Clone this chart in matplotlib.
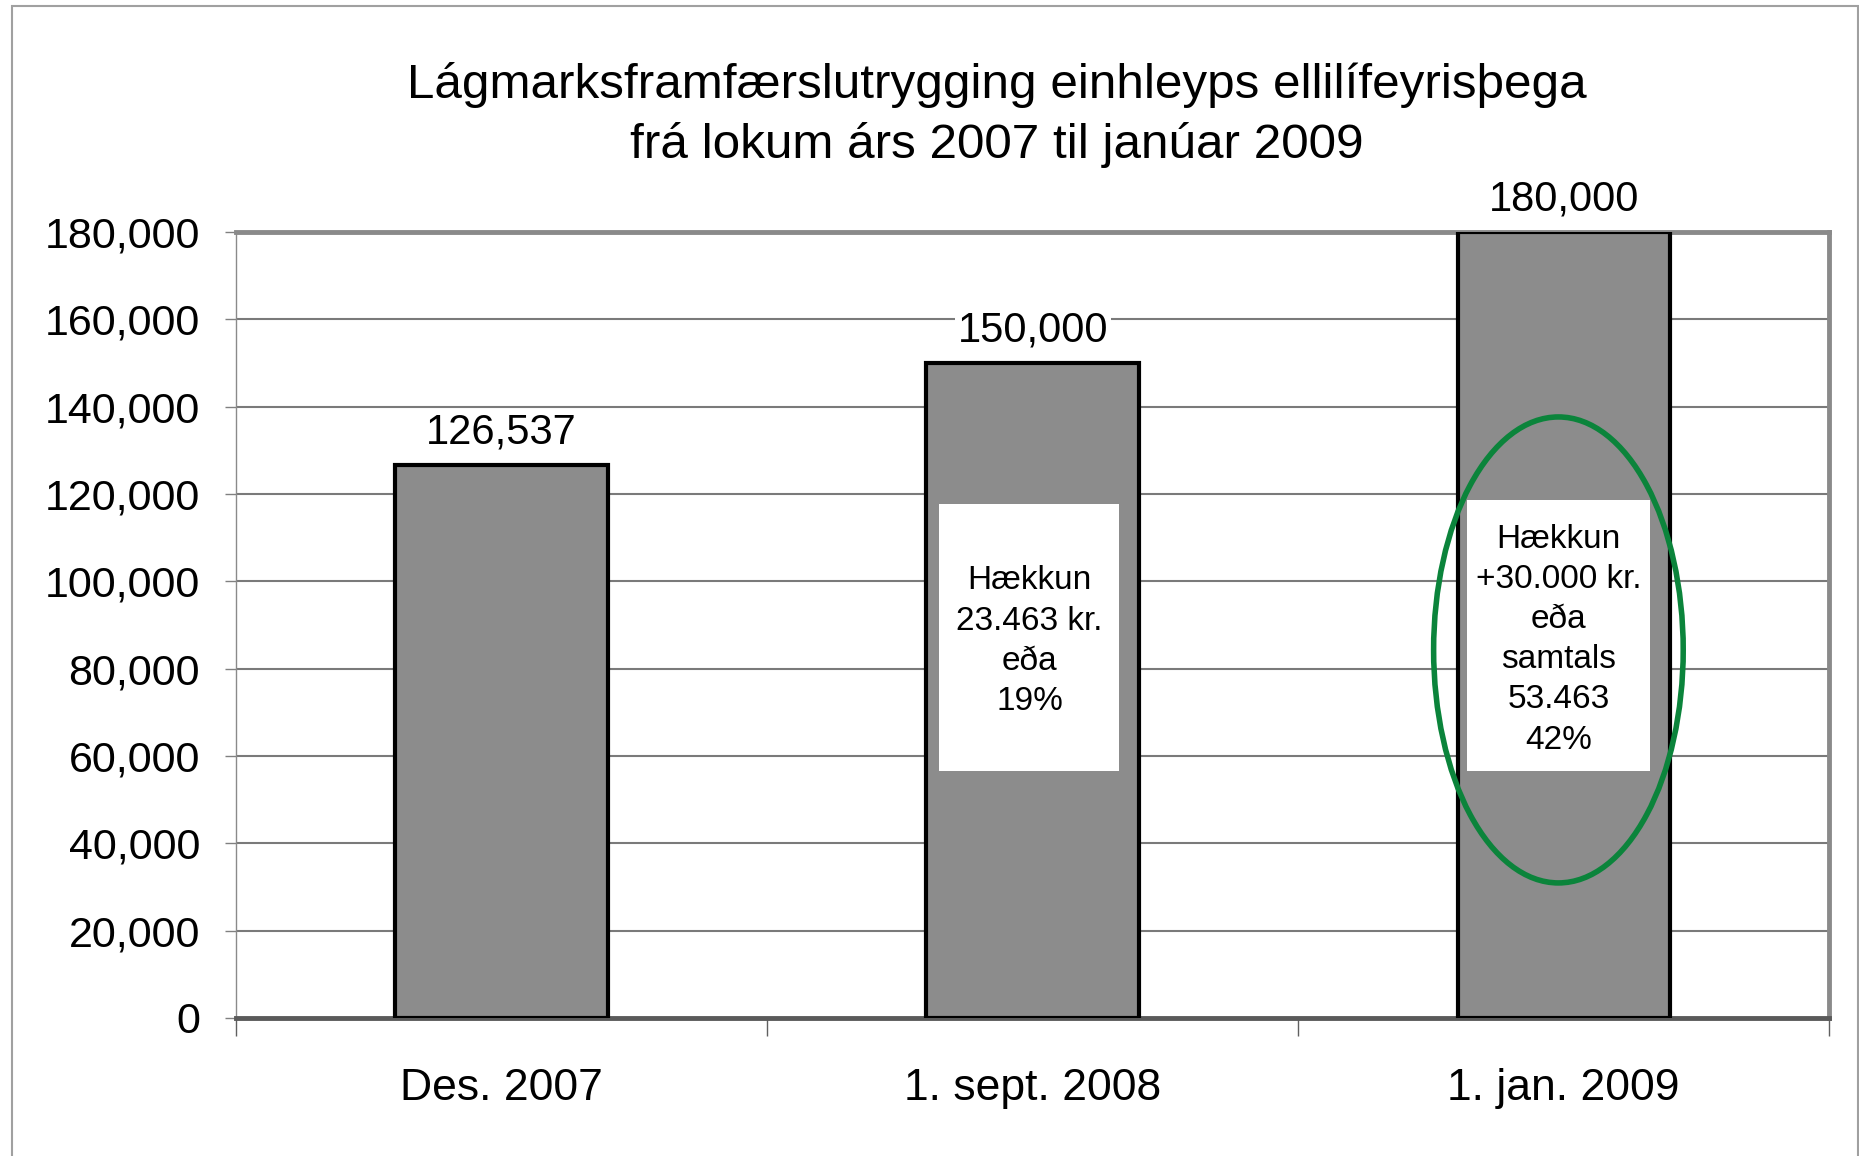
import matplotlib.pyplot as plt
from matplotlib.patches import Ellipse, Rectangle
from matplotlib.ticker import FuncFormatter, FixedLocator

plt.rcParams['font.family'] = ['Liberation Sans', 'DejaVu Sans']

# gögn
flokkar = ["Des. 2007", "1. sept. 2008", "1. jan. 2009"]
gildi = [126537, 150000, 180000]
merki = ["126,537", "150,000", "180,000"]
texti_2 = "Hækkun\n23.463 kr.\neða\n19%"
texti_3 = "Hækkun\n+30.000 kr.\neða\nsamtals\n53.463\n42%"

fig = plt.figure(figsize=(18.59, 11.56), dpi=100)
fig.patches.append(Rectangle((12 / 1859, -0.01), 1846 / 1859, 1.005, transform=fig.transFigure,
                             fill=False, edgecolor='#a0a0a0', linewidth=1.5))
ax = fig.add_axes([0.127, 0.1194, 0.857, 0.680])

x = range(len(flokkar))
ax.bar(x, gildi, width=0.4, color='#8c8c8c', edgecolor='black', linewidth=3, zorder=3)
ax.set_xlim(-0.5, 2.5)
ax.set_ylim(0, 180000)

ax.set_yticks(range(0, 180001, 20000))
ax.yaxis.set_major_formatter(FuncFormatter(lambda v, p: f"{int(v):,}"))
ax.tick_params(axis='y', labelsize=31, length=8, width=1, color='#808080', pad=18)
ax.grid(axis='y', color='#7a7a7a', linewidth=1.5, zorder=0)

ax.set_xticks([0, 1, 2])
ax.set_xticklabels(flokkar, fontsize=32)
ax.tick_params(axis='x', length=0, pad=36)
ax.xaxis.set_minor_locator(FixedLocator([-0.5, 0.5, 1.5, 2.5]))
ax.tick_params(axis='x', which='minor', length=13, width=1, color='#606060')

for s in ['top', 'right']:
    ax.spines[s].set_color('#8a8a8a')
    ax.spines[s].set_linewidth(3.5)
ax.spines['left'].set_color('#8a8a8a')
ax.spines['left'].set_linewidth(1)
ax.spines['bottom'].set_color('#5a5a5a')
ax.spines['bottom'].set_linewidth(3.5)

for i, (v, m) in enumerate(zip(gildi, merki)):
    ax.annotate(m, (i, v), xytext=(0, 9), textcoords='offset points',
                ha='center', va='bottom', fontsize=30, zorder=6, annotation_clip=False,
                bbox=dict(facecolor='white', edgecolor='none', pad=2))

ax.add_patch(Rectangle((0.824, 56565), 0.339, 61145, facecolor='white', edgecolor='none', zorder=4))
ax.text(0.994, 86300, texti_2, ha='center', va='center', fontsize=24, zorder=5, linespacing=1.38)

ax.add_patch(Rectangle((1.818, 56565), 0.345, 62061, facecolor='white', edgecolor='none', zorder=4))
ax.text(1.99, 86600, texti_3, ha='center', va='center', fontsize=24, zorder=5, linespacing=1.38)

ax.add_patch(Ellipse((1.99, 84275), 0.47, 106700, fill=False, edgecolor='#0b843b',
                     linewidth=4, zorder=6))

fig.text(0.536, 1 - 85 / 1156, "Lágmarksframfærslutrygging einhleyps ellilífeyrisþega",
         ha='center', va='center', fontsize=35.6)
fig.text(0.536, 1 - 145 / 1156, "frá lokum árs 2007 til janúar 2009",
         ha='center', va='center', fontsize=35.6)

fig.savefig("out.png", dpi=100)
